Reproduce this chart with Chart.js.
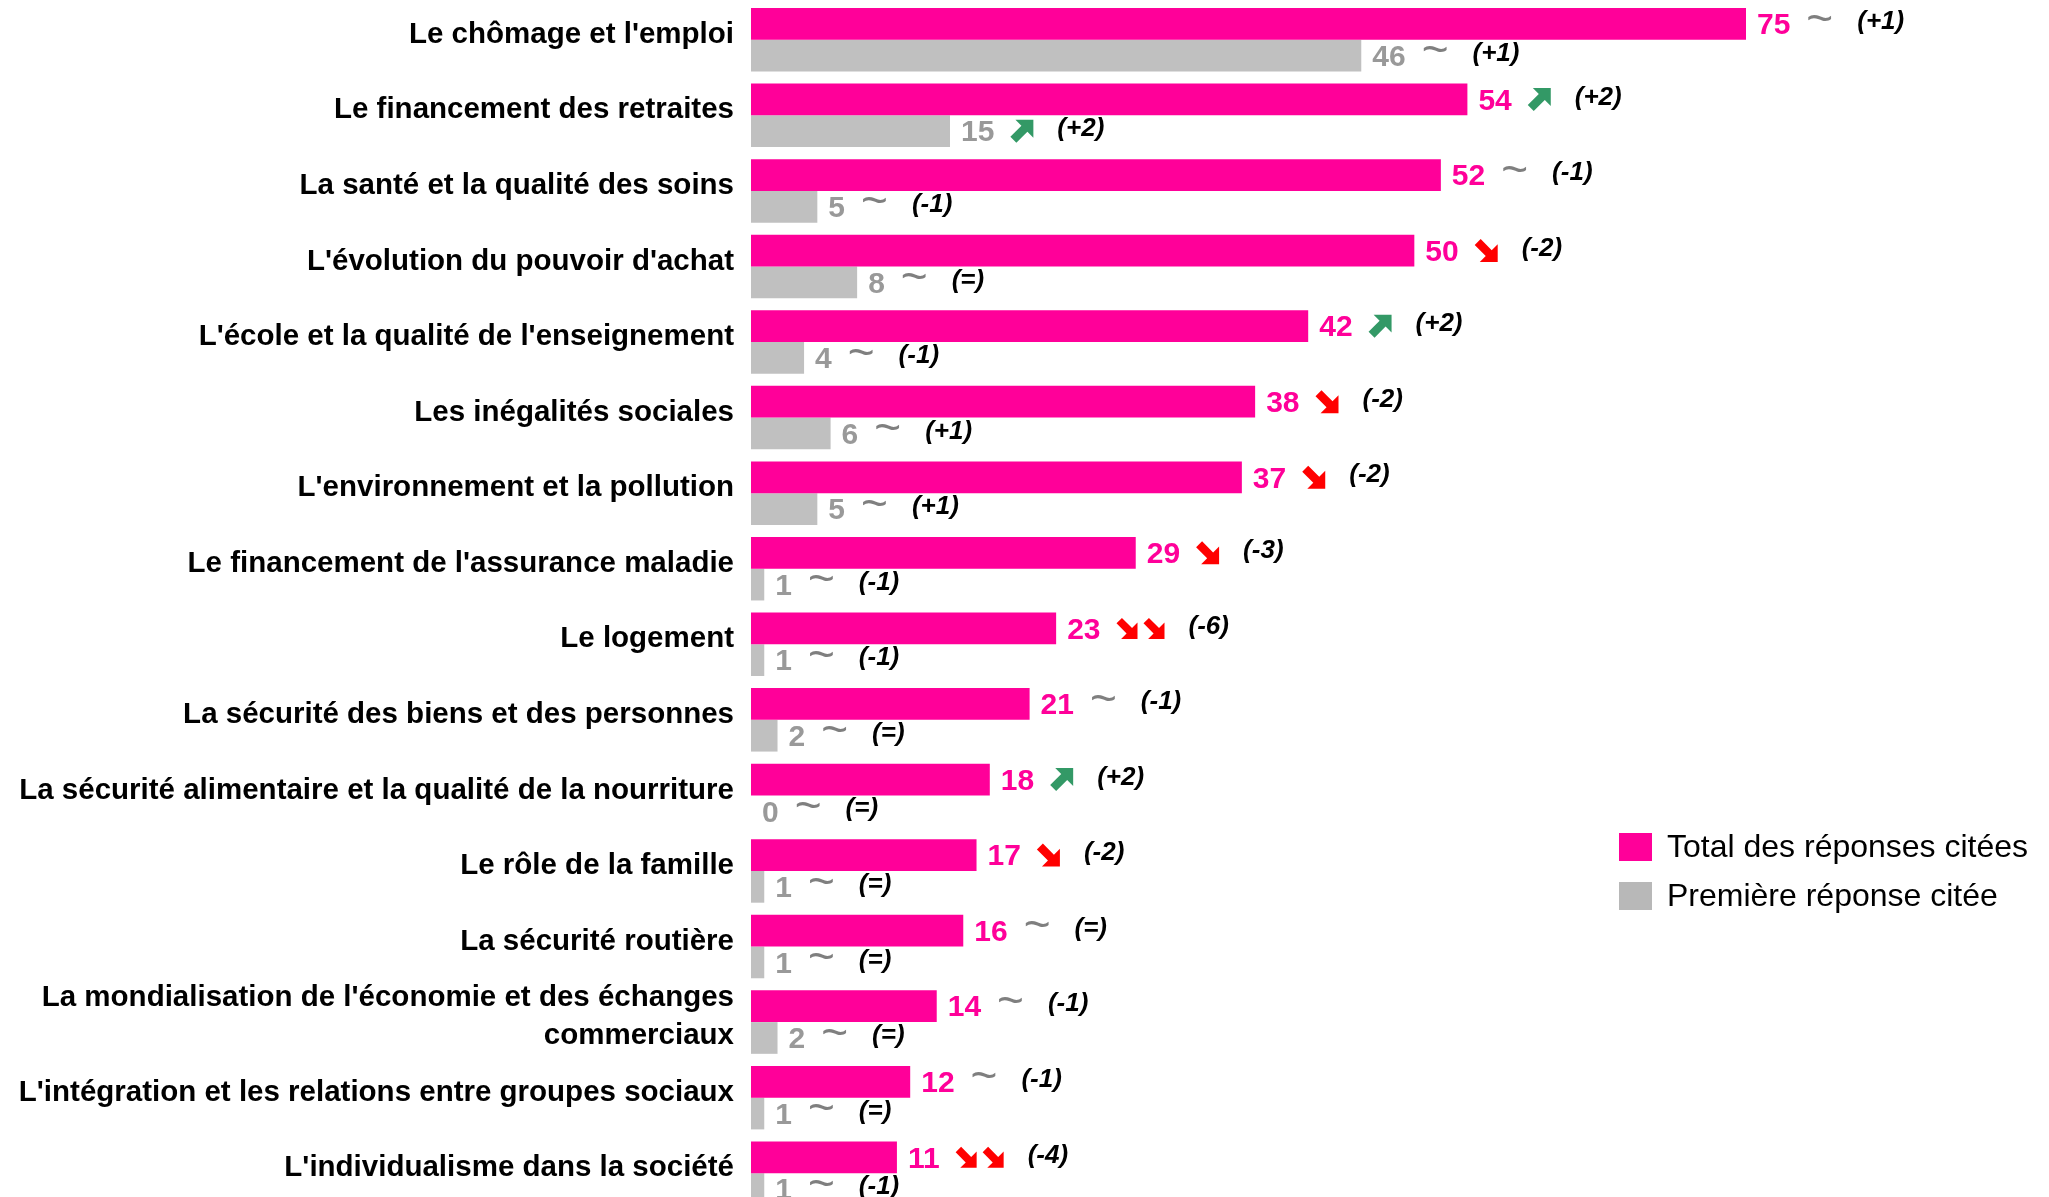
<!DOCTYPE html>
<html>
<head>
<meta charset="utf-8">
<script src="https://cdn.jsdelivr.net/npm/chart.js@4.4.1/dist/chart.umd.min.js"></script>
<style>
  html, body { margin: 0; padding: 0; background: #ffffff; overflow: hidden; }
  #wrap { width: 2049px; height: 1214px; }
</style>
</head>
<body>
<div id="wrap"><canvas id="c" width="2049" height="1214"></canvas></div>
<script>
const categories = [
  "Le chômage et l'emploi",
  "Le financement des retraites",
  "La santé et la qualité des soins",
  "L'évolution du pouvoir d'achat",
  "L'école et la qualité de l'enseignement",
  "Les inégalités sociales",
  "L'environnement et la pollution",
  "Le financement de l'assurance maladie",
  "Le logement",
  "La sécurité des biens et des personnes",
  "La sécurité alimentaire et la qualité de la nourriture",
  "Le rôle de la famille",
  "La sécurité routière",
  ["La mondialisation de l'économie et des échanges", "commerciaux"],
  "L'intégration et les relations entre groupes sociaux",
  "L'individualisme dans la société"
];
const seriesNames = ["Total des réponses citées", "Première réponse citée"];
const totalValues = [75, 54, 52, 50, 42, 38, 37, 29, 23, 21, 18, 17, 16, 14, 12, 11];
const firstValues = [46, 15, 5, 8, 4, 6, 5, 1, 1, 2, 0, 1, 1, 2, 1, 1];
const totalTrend = ["~", "up", "~", "down", "up", "down", "down", "down", "down2", "~", "up", "down", "~", "~", "~", "down2"];
const totalChange = ["(+1)", "(+2)", "(-1)", "(-2)", "(+2)", "(-2)", "(-2)", "(-3)", "(-6)", "(-1)", "(+2)", "(-2)", "(=)", "(-1)", "(-1)", "(-4)"];
const firstTrend = ["~", "up", "~", "~", "~", "~", "~", "~", "~", "~", "~", "~", "~", "~", "~", "~"];
const firstChange = ["(+1)", "(+2)", "(-1)", "(=)", "(-1)", "(+1)", "(+1)", "(-1)", "(-1)", "(=)", "(=)", "(=)", "(=)", "(=)", "(=)", "(-1)"];

const PINK = "#FF0099";
const GREY = "#C0C0C0";
const FONT = "'Liberation Sans', Arial, sans-serif";

function drawArrow(ctx, x, yc, s, dir, color) {
  const y0 = yc - s / 2;
  ctx.save();
  ctx.fillStyle = color;
  ctx.beginPath();
  if (dir === "up") {
    ctx.moveTo(x + s * 0.22, y0);
    ctx.lineTo(x + s, y0);
    ctx.lineTo(x + s, y0 + s * 0.78);
    ctx.lineTo(x + s * 0.74, y0 + s * 0.52);
    ctx.lineTo(x + s * 0.26, y0 + s);
    ctx.lineTo(x, y0 + s * 0.74);
    ctx.lineTo(x + s * 0.48, y0 + s * 0.26);
    ctx.closePath();
  } else {
    ctx.moveTo(x + s, y0 + s * 0.22);
    ctx.lineTo(x + s, y0 + s);
    ctx.lineTo(x + s * 0.22, y0 + s);
    ctx.lineTo(x + s * 0.48, y0 + s * 0.74);
    ctx.lineTo(x, y0 + s * 0.26);
    ctx.lineTo(x + s * 0.26, y0);
    ctx.lineTo(x + s * 0.74, y0 + s * 0.48);
    ctx.closePath();
  }
  ctx.fill();
  ctx.restore();
}

function drawTrend(ctx, x, yc, trend) {
  if (trend === "~") {
    ctx.save();
    ctx.font = "46px " + FONT;
    ctx.fillStyle = "#7F7F7F";
    ctx.textAlign = "left";
    ctx.textBaseline = "middle";
    ctx.fillText("~", x, yc - 3);
    const w = ctx.measureText("~").width;
    ctx.restore();
    return w;
  }
  if (trend === "up") {
    drawArrow(ctx, x, yc, 23, "up", "#339966");
    return 23;
  }
  if (trend === "down") {
    drawArrow(ctx, x, yc, 23, "down", "#FF0000");
    return 23;
  }
  if (trend === "down2") {
    drawArrow(ctx, x, yc, 21, "down", "#FF0000");
    drawArrow(ctx, x + 27, yc, 21, "down", "#FF0000");
    return 48;
  }
  return 0;
}

const labelPlugin = {
  id: "valueLabels",
  afterDatasetsDraw(chart) {
    const ctx = chart.ctx;
    const specs = [
      { ds: 0, color: PINK, trends: totalTrend, changes: totalChange },
      { ds: 1, color: "#999999", trends: firstTrend, changes: firstChange }
    ];
    specs.forEach(sp => {
      const meta = chart.getDatasetMeta(sp.ds);
      const values = chart.data.datasets[sp.ds].data;
      meta.data.forEach((bar, i) => {
        const yc = bar.y;
        let x = bar.x + 11;
        ctx.save();
        ctx.font = "bold 30px " + FONT;
        ctx.fillStyle = sp.color;
        ctx.textAlign = "left";
        ctx.textBaseline = "middle";
        const txt = String(values[i]);
        ctx.fillText(txt, x, yc + 2);
        x += ctx.measureText(txt).width + 16;
        ctx.restore();
        const w = drawTrend(ctx, x, yc, sp.trends[i]);
        x += w + 24;
        ctx.save();
        ctx.font = "italic bold 26px " + FONT;
        ctx.fillStyle = "#000000";
        ctx.textAlign = "left";
        ctx.textBaseline = "middle";
        ctx.fillText(sp.changes[i], x, yc - 2);
        ctx.restore();
      });
    });
  }
};

const legendPlugin = {
  id: "customLegend",
  afterDraw(chart) {
    const ctx = chart.ctx;
    const items = [
      { text: seriesNames[0], color: PINK, y: 847 },
      { text: seriesNames[1], color: "#B8B8B8", y: 896 }
    ];
    ctx.save();
    items.forEach(it => {
      ctx.fillStyle = it.color;
      ctx.fillRect(1619, it.y - 14, 33, 28);
      ctx.font = "32px " + FONT;
      ctx.fillStyle = "#000000";
      ctx.textAlign = "left";
      ctx.textBaseline = "middle";
      ctx.fillText(it.text, 1667, it.y + 1);
    });
    ctx.restore();
  }
};

new Chart(document.getElementById("c"), {
  type: "bar",
  data: {
    labels: categories,
    datasets: [
      { label: seriesNames[0], data: totalValues, backgroundColor: PINK, barPercentage: 1.0, categoryPercentage: 0.84 },
      { label: seriesNames[1], data: firstValues, backgroundColor: GREY, barPercentage: 1.0, categoryPercentage: 0.84 }
    ]
  },
  options: {
    indexAxis: "y",
    responsive: false,
    animation: false,
    devicePixelRatio: 1,
    layout: { padding: { top: 2, bottom: 3, left: 0, right: 104 } },
    plugins: {
      legend: { display: false },
      tooltip: { enabled: false }
    },
    scales: {
      x: {
        display: false,
        min: 0,
        max: 90
      },
      y: {
        afterFit(scale) {
          scale.width = 751;
          scale.paddingTop = 0;
          scale.paddingBottom = 0;
        },
        grid: { display: false, drawTicks: false },
        border: { display: false },
        ticks: {
          padding: 17,
          labelOffset: -5,
          color: "#000000",
          font: { family: FONT, weight: "bold", size: 29.5, lineHeight: 1.28 },
          autoSkip: false
        }
      }
    }
  },
  plugins: [labelPlugin, legendPlugin]
});
</script>
</body>
</html>
